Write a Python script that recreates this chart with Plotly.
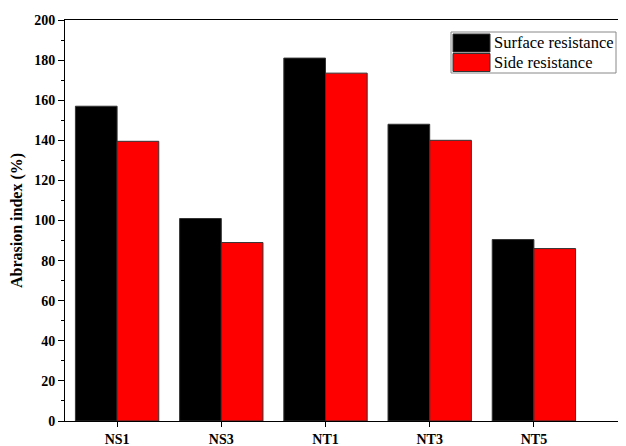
import plotly.graph_objects as go

categories = ["NS1", "NS3", "NT1", "NT3", "NT5"]
surface = [157, 101, 181, 148, 90.5]
side = [139.5, 89, 173.5, 140, 86]
series_names = ["Surface resistance", "Side resistance"]
colors = ["#000000", "#ff0000"]

OFF = 8  # page body margin
W, H = 626 - OFF, 446 - OFF
L, R, T, B = 65 - OFF, 0, 20 - OFF, 25
pw, ph = W - L - R, H - T - B

def px(x):
    return (x - OFF - L) / pw

def py(y):
    return (H - B - (y - OFF)) / ph

fig = go.Figure()
for name, vals, c in zip(series_names, [surface, side], colors):
    fig.add_trace(go.Bar(
        x=categories, y=vals, name=name,
        marker=dict(color=c, line=dict(color="#333333", width=1)),
        showlegend=False,
    ))

font = "Liberation Serif, Times New Roman, serif"

shapes = [dict(type="rect", xref="paper", yref="paper",
               x0=px(451), x1=px(616), y0=py(73), y1=py(32),
               line=dict(color="#888888", width=1), fillcolor="white", layer="above")]
annotations = []
for i, (name, c) in enumerate(zip(series_names, colors)):
    y0 = 34 + i * 19.5
    shapes.append(dict(type="rect", xref="paper", yref="paper",
                       x0=px(453), x1=px(490), y0=py(y0 + 18), y1=py(y0),
                       line=dict(color="#333333", width=1), fillcolor=c, layer="above"))
    annotations.append(dict(xref="paper", yref="paper", x=px(492), y=py(y0 + 9),
                            text=name, showarrow=False, xanchor="left", yanchor="middle",
                            font=dict(family=font, size=16.5, color="black")))

fig.update_layout(
    width=W, height=H,
    margin=dict(l=L, r=R, t=T, b=B, autoexpand=False),
    plot_bgcolor="white", paper_bgcolor="white",
    barmode="group", bargap=0.2, bargroupgap=0,
    font=dict(family=font, color="black"),
    shapes=shapes, annotations=annotations,
    xaxis=dict(
        range=[-0.5, -0.5 + pw / 104.2],
        showline=True, linecolor="black", linewidth=1, mirror=True,
        ticks="outside", ticklen=5, tickcolor="black",
        tickfont=dict(family=font, size=14, color="black", weight="bold"),
        showgrid=False, automargin=False,
    ),
    yaxis=dict(
        range=[0, 200], dtick=20,
        showline=True, linecolor="black", linewidth=1,
        ticks="outside", ticklen=6, tickcolor="black",
        minor=dict(ticks="outside", ticklen=3, dtick=10, tickcolor="black"),
        tickfont=dict(family=font, size=14, color="black", weight="bold"),
        title=dict(text="Abrasion index (%)", standoff=8,
                   font=dict(family=font, size=16, color="black", weight="bold")),
        showgrid=False, zeroline=False, automargin=False,
    ),
)

fig.write_html("out.html")
